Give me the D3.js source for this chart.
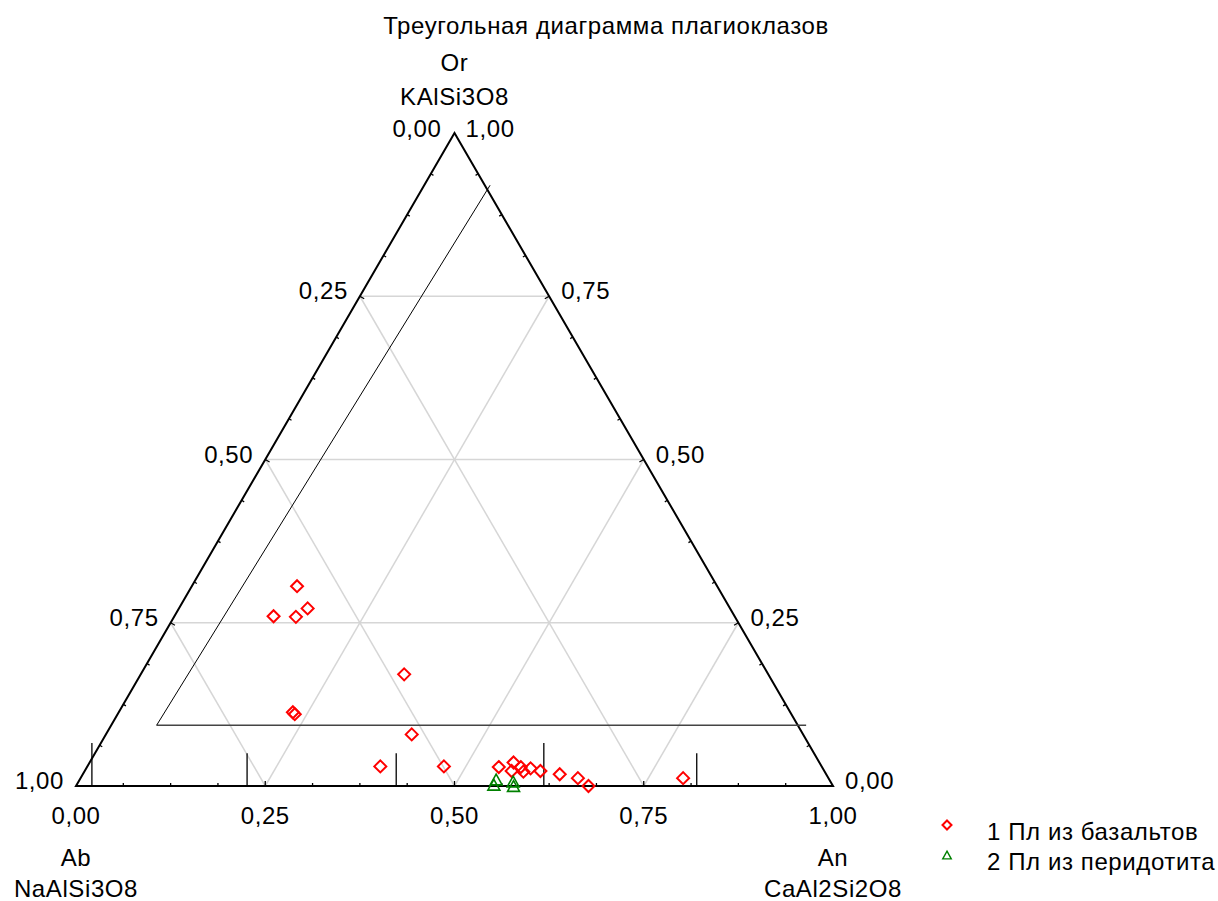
<!DOCTYPE html>
<html>
<head>
<meta charset="utf-8">
<script src="https://cdn.jsdelivr.net/npm/d3@7"></script>
<style>
  body { margin: 0; background: #fff; }
  text { font-family: "Liberation Sans", Arial, sans-serif; fill: #000; letter-spacing: 0.6px; }
</style>
</head>
<body>
<svg id="svg" width="1218" height="901"></svg>
<script>
// series values: An and Or fractions (Ab = 1 - An - Or)
const basaltAn = [0.139, 0.170, 0.131, 0.161, 0.348, 0.230, 0.234, 0.404, 0.387, 0.471,
                  0.544, 0.560, 0.564, 0.573, 0.580, 0.587, 0.602, 0.630, 0.657, 0.677, 0.796];
const basaltOr = [0.306, 0.272, 0.260, 0.259, 0.171, 0.113, 0.110, 0.079, 0.030, 0.030,
                  0.029, 0.036, 0.023, 0.029, 0.022, 0.027, 0.023, 0.018, 0.012, 0.000, 0.012];
const peridAn = [0.550, 0.551, 0.574, 0.578];
const peridOr = [0.010, 0.002, 0.007, 0.000];

// boundary lines [An, Or]
const orLine = [[0.060, 0.093], [0.918, 0.093]];
const anLine = [[0.060, 0.093], [0.087, 0.920]];
// short drop lines on the An axis
const dropAn = [0.021, 0.226, 0.423, 0.618, 0.820];
const dropH = [0.066, 0.050, 0.050, 0.066, 0.050];

const tickVals = [0, 0.25, 0.5, 0.75, 1];
const tickLabels = ["0,00", "0,25", "0,50", "0,75", "1,00"];
const gridVals = [0.25, 0.5, 0.75];

const title = "Треугольная диаграмма плагиоклазов";
const seriesNames = ["1 Пл из базальтов", "2 Пл из перидотита"];

var svg = d3.select("#svg");

var x = d3.scaleLinear().domain([0, 1]).range([76, 833]);
var y = d3.scaleLinear().domain([0, 1]).range([786, 133]);
// ternary -> screen
const proj = (an, or) => [x(an + or / 2), y(or)];

var line = d3.line();

// grid
var grid = svg.append("g")
    .attr("stroke", "#d6d6d6")
    .attr("stroke-width", 1.5)
    .attr("fill", "none");
gridVals.forEach(t => {
    // Or = t
    grid.append("path").attr("d", line([proj(0, t), proj(1 - t, t)]));
    // Ab = t
    grid.append("path").attr("d", line([proj(0, 1 - t), proj(1 - t, 0)]));
    // An = t
    grid.append("path").attr("d", line([proj(t, 0), proj(t, 1 - t)]));
});

// triangle frame
var A = proj(0, 0), B = proj(1, 0), C = proj(0, 1);
svg.append("path")
    .attr("d", line([A, B, C]) + "Z")
    .attr("fill", "none")
    .attr("stroke", "#000")
    .attr("stroke-width", 2)
    .attr("stroke-linejoin", "miter");

// ticks along edges
function edgeTicks(p0, p1, nrm) {
    var g = svg.append("g").attr("stroke", "#000").attr("stroke-width", 1.3);
    d3.range(1, 16).forEach(i => {
        var f = i / 16;
        var px = p0[0] + (p1[0] - p0[0]) * f, py = p0[1] + (p1[1] - p0[1]) * f;
        var len = i % 4 === 0 ? 5 : 3;
        g.append("line")
            .attr("x1", px).attr("y1", py)
            .attr("x2", px + nrm[0] * len).attr("y2", py + nrm[1] * len);
    });
}
function inward(p0, p1, c) {
    var dx = p1[0] - p0[0], dy = p1[1] - p0[1], L = Math.hypot(dx, dy);
    var n = [-dy / L, dx / L];
    var mx = (p0[0] + p1[0]) / 2, my = (p0[1] + p1[1]) / 2;
    if ((c[0] - mx) * n[0] + (c[1] - my) * n[1] < 0) n = [-n[0], -n[1]];
    return n;
}
edgeTicks(A, B, inward(A, B, C));
edgeTicks(A, C, inward(A, C, B));
edgeTicks(C, B, inward(C, B, A));

// boundary lines
svg.append("path").attr("d", line(orLine.map(d => proj(d[0], d[1]))))
    .attr("stroke", "#444").attr("stroke-width", 1.3).attr("fill", "none");
svg.append("path").attr("d", line(anLine.map(d => proj(d[0], d[1]))))
    .attr("stroke", "#000").attr("stroke-width", 1).attr("fill", "none");
dropAn.forEach((a, i) => {
    svg.append("path")
        .attr("d", line([proj(a, 0), proj(a - dropH[i] / 2, dropH[i])]))
        .attr("stroke", "#000").attr("stroke-width", 1.3);
});

// tick labels
var fs = 24;
var labels = svg.append("g").style("font-size", fs + "px");
tickVals.forEach((t, i) => {
    // bottom (An)
    labels.append("text").attr("x", x(t)).attr("y", 824)
        .attr("text-anchor", "middle").text(tickLabels[i]);
    // left (Ab): Ab = t at Or = 1 - t
    if (t > 0) {
        var p = proj(0, 1 - t);
        labels.append("text").attr("x", p[0] - 12).attr("y", p[1] + 3)
            .attr("text-anchor", "end").text(tickLabels[i]);
    }
    // right (Or): Or = t
    if (t < 1) {
        var q = proj(1 - t, t);
        labels.append("text").attr("x", q[0] + 12).attr("y", q[1] + 3)
            .attr("text-anchor", "start").text(tickLabels[i]);
    }
});
// top vertex labels
labels.append("text").attr("x", C[0] - 13).attr("y", 137).attr("text-anchor", "end").text(tickLabels[0]);
labels.append("text").attr("x", C[0] + 11).attr("y", 137).attr("text-anchor", "start").text(tickLabels[4]);

// vertex names
var names = svg.append("g").style("font-size", fs + "px").attr("text-anchor", "middle");
names.append("text").attr("x", C[0]).attr("y", 71).text("Or");
names.append("text").attr("x", C[0]).attr("y", 105).text("KAlSi3O8");
names.append("text").attr("x", A[0]).attr("y", 866).text("Ab");
names.append("text").attr("x", A[0]).attr("y", 897).text("NaAlSi3O8");
names.append("text").attr("x", B[0]).attr("y", 866).text("An");
names.append("text").attr("x", B[0]).attr("y", 897).text("CaAl2Si2O8");

// title
svg.append("text").attr("x", 606).attr("y", 34)
    .attr("text-anchor", "middle").style("font-size", fs + "px").text(title);

// markers
var diamond = (r) => `M0,${-r}L${r},0L0,${r}L${-r},0Z`;
var tri = (w) => { var h = w * 0.9; return `M0,${-h / 2}L${w / 2},${h / 2}L${-w / 2},${h / 2}Z`; };

svg.append("g").selectAll("path")
    .data(d3.zip(basaltAn, basaltOr))
    .join("path")
    .attr("transform", d => "translate(" + proj(d[0], d[1]) + ")")
    .attr("d", diamond(6))
    .attr("fill", "none").attr("stroke", "#ff0000").attr("stroke-width", 2);

svg.append("g").selectAll("path")
    .data(d3.zip(peridAn, peridOr))
    .join("path")
    .attr("transform", d => "translate(" + proj(d[0], d[1]) + ")")
    .attr("d", tri(12))
    .attr("fill", "none").attr("stroke", "#008000").attr("stroke-width", 1.6);

// legend
var leg = svg.append("g").style("font-size", fs + "px");
leg.append("path").attr("transform", "translate(947,825)").attr("d", diamond(4.5))
    .attr("fill", "none").attr("stroke", "#ff0000").attr("stroke-width", 2);
leg.append("path").attr("transform", "translate(947,855)").attr("d", tri(8.5))
    .attr("fill", "none").attr("stroke", "#008000").attr("stroke-width", 1.4);
leg.append("text").attr("x", 987).attr("y", 840).text(seriesNames[0]);
leg.append("text").attr("x", 987).attr("y", 870).text(seriesNames[1]);
</script>
</body>
</html>
